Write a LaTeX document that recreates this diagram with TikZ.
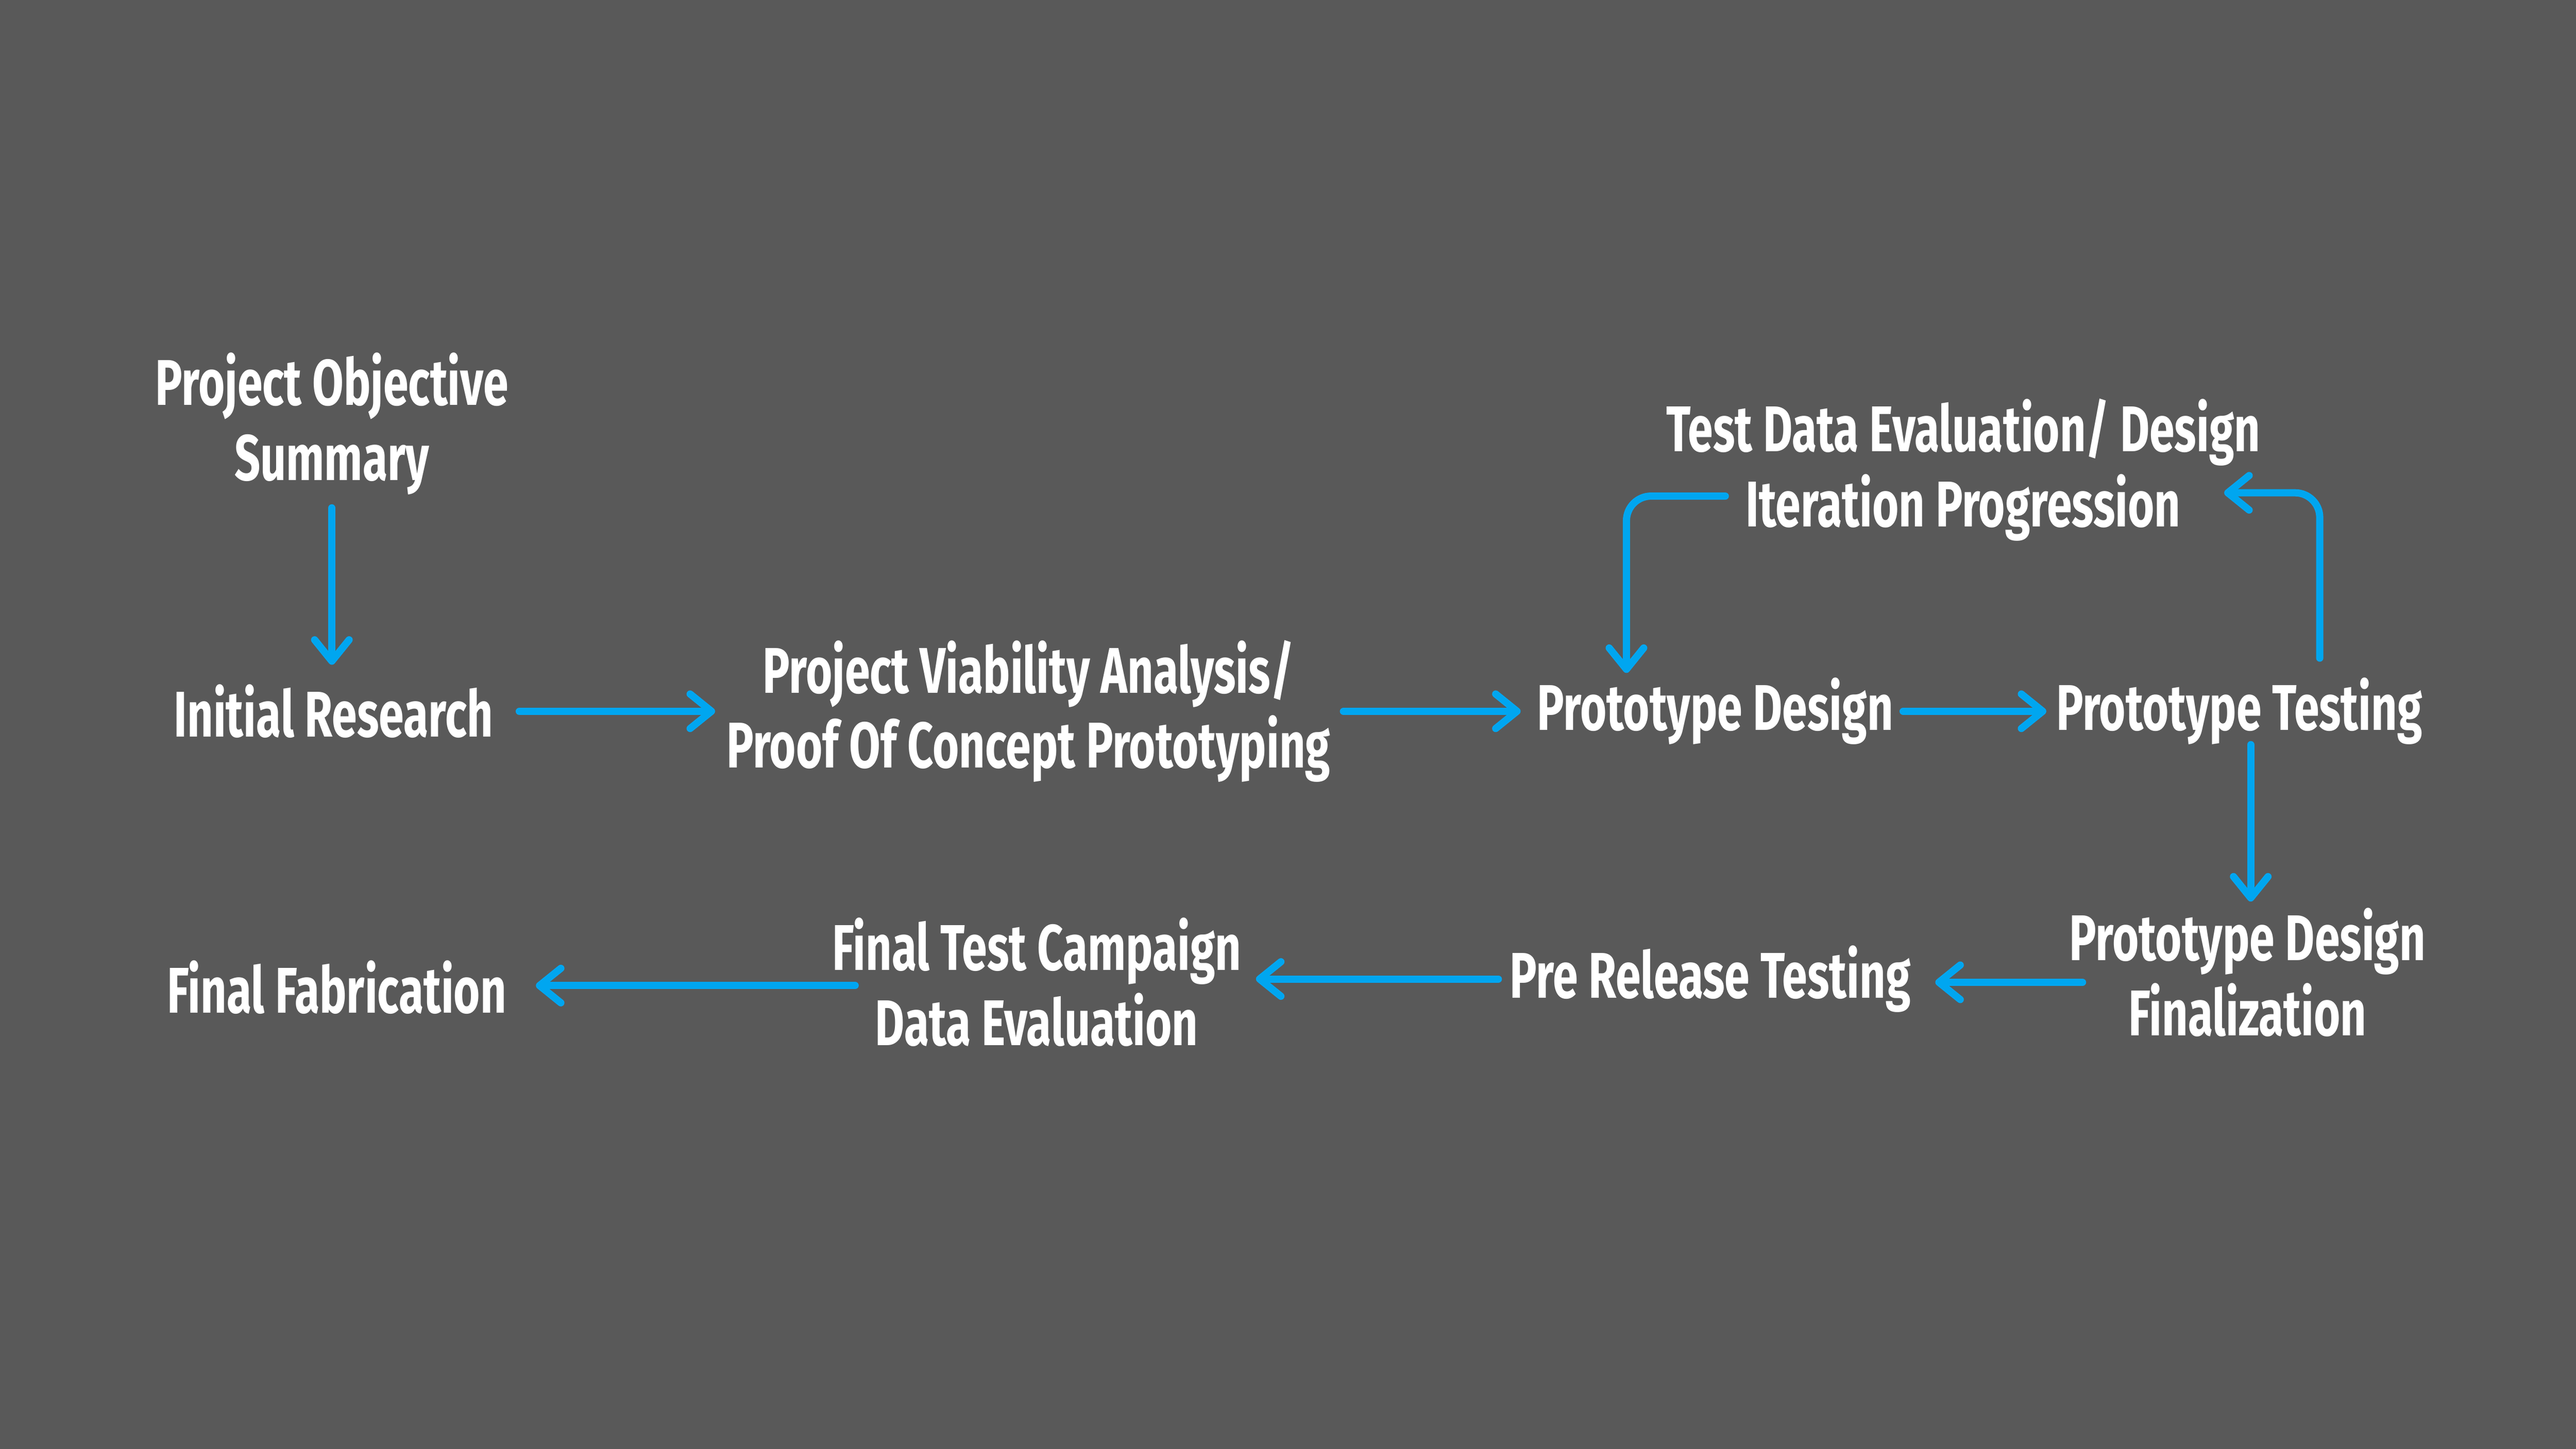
\documentclass[tikz,border=0pt]{standalone}
\usepackage{fontspec}
\setmainfont[FakeStretch=0.70]{Fira Sans}
\usetikzlibrary{arrows.meta, positioning}
\definecolor{slategrey}{HTML}{595959}
\definecolor{flowblue}{HTML}{00A6F0}

\begin{document}
\begin{tikzpicture}[
    stagenode/.style = {text=white, align=center,
                        inner sep=0pt, outer sep=0pt,
                        font=\fontsize{11.2}{13}\selectfont\bfseries},
    flowarrow/.style = {draw=flowblue, line width=1.25pt, line cap=round,
                        -{Straight Barb[length=1.3mm, width=2.1mm, round]}},
    looparrow/.style = {flowarrow, rounded corners=1.5mm}
]

    \fill[slategrey] (0,0) rectangle (15.68,-8.82);
    \useasboundingbox (0,0) rectangle (15.68,-8.82);

    \node[stagenode] (POS) at (2.02,-2.58) {Project Objective\\Summary};
    \node[stagenode] (IR)  at (2.03,-4.33) {Initial Research};
    \node[stagenode] (PV)  at (6.26,-4.33) {Project Viability Analysis/\\Proof Of Concept Prototyping};
    \node[stagenode] (PD)  at (10.44,-4.33) {Prototype Design};
    \node[stagenode] (PT)  at (13.63,-4.33) {Prototype Testing};
    \node[stagenode] (TD)  at (11.95,-2.86) {Test Data Evaluation/ Design\\Iteration Progression};
    \node[stagenode] (PDF) at (13.68,-5.92) {Prototype Design\\Finalization};
    \node[stagenode] (PRT) at (10.41,-5.96) {Pre Release Testing};
    \node[stagenode] (FTC) at (6.31,-5.98) {Final Test Campaign\\Data Evaluation};
    \node[stagenode] (FF)  at (2.05,-6.01) {Final Fabrication};

    \draw[flowarrow, shorten <=0.8mm, shorten >=1.2mm] (POS.south) -- (POS.south |- IR.north);
    \draw[flowarrow, shorten <=1.6mm, shorten >=0.7mm] (IR.east) -- (IR.east -| PV.west);
    \draw[flowarrow, shorten <=0.8mm, shorten >=1mm] (PV.east |- PD.west) -- (PD.west);
    \draw[flowarrow, shorten <=0.6mm, shorten >=0.6mm] (PD.east) -- (PT.west);
    % feedback loop round the test data
    \draw[looparrow, shorten <=1.2mm] ([xshift=4.9mm]PT.north) |- ([xshift=-2.2mm, yshift=-1.4mm]TD.east);
    \draw[looparrow, shorten >=0.3mm] ([xshift=3.6mm, yshift=-1.6mm]TD.west) -| ([xshift=-5.4mm]PD.north);
    \draw[flowarrow, shorten >=0.4mm] ([xshift=0.7mm]PT.south) -- ([xshift=0.7mm]PT.south |- PDF.north);
    % bottom row runs right to left
    \draw[flowarrow, shorten <=-0.8mm, shorten >=1.5mm] ([yshift=-0.6mm]PDF.west) -- ([yshift=-0.6mm]PDF.west -| PRT.east);
    \draw[flowarrow, shorten <=0.7mm, shorten >=0.9mm] (PRT.west) -- (PRT.west -| FTC.east);
    \draw[flowarrow, shorten <=-1.4mm, shorten >=1.8mm] ([yshift=-0.2mm]FTC.west) -- ([yshift=-0.2mm]FTC.west -| FF.east);

\end{tikzpicture}
\end{document}
